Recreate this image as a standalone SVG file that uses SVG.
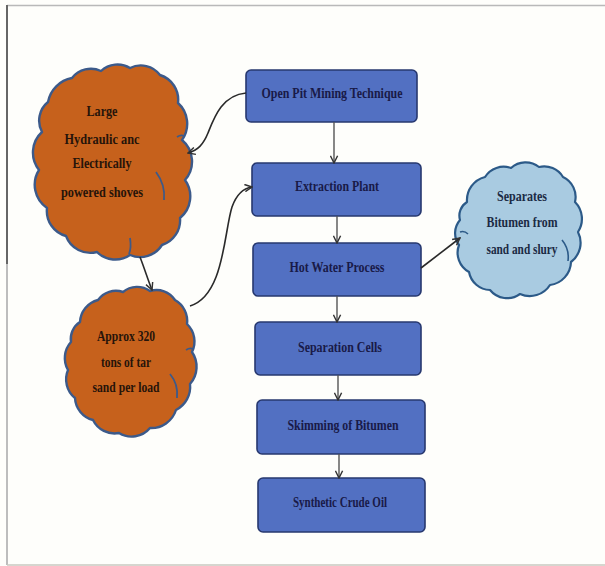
<svg xmlns="http://www.w3.org/2000/svg" width="605" height="566" viewBox="0 0 605 566">
<defs>
<style>
.bg{fill:#fefefb}
.box{fill:#5270c2;stroke:#27386f;stroke-width:1.6}
.bt{font-family:"Liberation Serif","Times New Roman",serif;font-weight:bold;font-size:14px;fill:#191a48;text-anchor:middle}
.ct{font-family:"Liberation Serif","Times New Roman",serif;font-weight:bold;font-size:14px;fill:#26140a;text-anchor:middle}
.bct{font-family:"Liberation Serif","Times New Roman",serif;font-weight:bold;font-size:14px;fill:#1b2a44;text-anchor:middle}
.oc{fill:#c6611c;stroke:#3c5a8a;stroke-width:2.4;stroke-linejoin:round}
.bc{fill:#a9cbe1;stroke:#2c5a88;stroke-width:2.2;stroke-linejoin:round}
.inO{fill:none;stroke:#3c5a8a;stroke-width:1.8}
.inB{fill:none;stroke:#2c5a88;stroke-width:1.6}
.con{fill:none;stroke:#2a2a2a;stroke-width:1.6}
.vcon{fill:none;stroke:#555;stroke-width:1.4}
</style>
<marker id="ah" viewBox="0 0 10 10" refX="9" refY="5" markerWidth="9" markerHeight="9" markerUnits="userSpaceOnUse" orient="auto">
<path d="M1,1 L9,5 L1,9" fill="none" stroke="#333" stroke-width="1.6"/>
</marker>
</defs>
<rect class="bg" x="0" y="0" width="605" height="566"/>
<line x1="7" y1="5.5" x2="605" y2="5.5" stroke="#b9b9b9" stroke-width="1.5"/>
<line x1="7" y1="5" x2="7" y2="264" stroke="#666" stroke-width="2"/>
<line x1="7" y1="264" x2="7" y2="565" stroke="#bdbdbd" stroke-width="2"/>
<line x1="7" y1="565" x2="605" y2="565" stroke="#c8c8c0" stroke-width="1.5"/>

<g id="cloud-shovels">
<path class="oc" d="M48,102 A30,30 0 0 1 72,78 A24,24 0 0 1 101,71 A24,24 0 0 1 130,68 A24,24 0 0 1 160,75 A26,26 0 0 1 178,103 A28,28 0 0 1 182,140 A28,28 0 0 1 185,180 A28,28 0 0 1 180,218 A26,26 0 0 1 162,245 A26,26 0 0 1 130,255 A26,26 0 0 1 97,252 A26,26 0 0 1 66,236 A26,26 0 0 1 47,208 A28,28 0 0 1 39,170 A28,28 0 0 1 42,132 A24,24 0 0 1 48,102 Z"/>
<path class="inO" d="M156,172 C162,180 165,190 164,200"/>
<path class="inO" d="M177,137 C180,135 182,135 184,136"/>
<path class="inO" d="M130,238 C131,244 131,249 129,254"/>
<text class="ct" x="102" y="116" textLength="31" lengthAdjust="spacingAndGlyphs">Large</text>
<text class="ct" x="102" y="144" textLength="75" lengthAdjust="spacingAndGlyphs">Hydraulic anc</text>
<text class="ct" x="102" y="168" textLength="59" lengthAdjust="spacingAndGlyphs">Electrically</text>
<text class="ct" x="102" y="197" textLength="82" lengthAdjust="spacingAndGlyphs">powered shoves</text>
</g>

<g id="cloud-load">
<path class="oc" d="M80,322 A24,24 0 0 1 98,300 A22,22 0 0 1 123,292 A22,22 0 0 1 150,291 A22,22 0 0 1 175,300 A24,24 0 0 1 187,324 A24,24 0 0 1 192,352 A26,26 0 0 1 190,384 A26,26 0 0 1 176,410 A26,26 0 0 1 150,428 A24,24 0 0 1 119,433 A24,24 0 0 1 93,420 A24,24 0 0 1 75,398 A24,24 0 0 1 68,370 A24,24 0 0 1 71,342 A20,20 0 0 1 80,322 Z"/>
<path class="inO" d="M170,374 C175,380 178,389 177,398"/>
<path class="inO" d="M186,350 C189,348 191,348 193,349"/>
<text class="ct" x="126" y="341" textLength="58" lengthAdjust="spacingAndGlyphs">Approx 320</text>
<text class="ct" x="126" y="367" textLength="50" lengthAdjust="spacingAndGlyphs">tons of tar</text>
<text class="ct" x="126" y="392" textLength="67" lengthAdjust="spacingAndGlyphs">sand per load</text>
</g>

<g id="cloud-separates">
<path class="bc" d="M467,202 A24,24 0 0 1 485,177 A22,22 0 0 1 511,168 A22,22 0 0 1 539,167 A22,22 0 0 1 563,177 A22,22 0 0 1 575,202 A24,24 0 0 1 578,232 A24,24 0 0 1 571,262 A24,24 0 0 1 550,285 A24,24 0 0 1 520,294 A22,22 0 0 1 490,290 A22,22 0 0 1 469,272 A22,22 0 0 1 459,245 A20,20 0 0 1 460,220 A16,16 0 0 1 467,202 Z"/>
<path class="inB" d="M562,240 C567,246 569,253 568,261"/>
<path class="inB" d="M460,232 C463,231 466,232 468,234"/>
<text class="bct" x="522" y="201" textLength="50" lengthAdjust="spacingAndGlyphs">Separates</text>
<text class="bct" x="522" y="227" textLength="71" lengthAdjust="spacingAndGlyphs">Bitumen from</text>
<text class="bct" x="522" y="254" textLength="71" lengthAdjust="spacingAndGlyphs">sand and slury</text>
</g>

<g id="box-openpit">
<rect class="box" x="246" y="70" width="171" height="52" rx="5"/>
<text class="bt" x="332" y="98" textLength="141" lengthAdjust="spacingAndGlyphs">Open Pit Mining Technique</text>
</g>
<g id="box-extraction">
<rect class="box" x="252" y="163" width="169" height="53" rx="5"/>
<text class="bt" x="337" y="191" textLength="84" lengthAdjust="spacingAndGlyphs">Extraction Plant</text>
</g>
<g id="box-hotwater">
<rect class="box" x="253" y="243" width="168" height="53" rx="5"/>
<text class="bt" x="337" y="272" textLength="95" lengthAdjust="spacingAndGlyphs">Hot Water Process</text>
</g>
<g id="box-separation">
<rect class="box" x="255" y="322" width="166" height="53" rx="5"/>
<text class="bt" x="340" y="352" textLength="84" lengthAdjust="spacingAndGlyphs">Separation Cells</text>
</g>
<g id="box-skimming">
<rect class="box" x="257" y="400" width="168" height="54" rx="5"/>
<text class="bt" x="343" y="430" textLength="111" lengthAdjust="spacingAndGlyphs">Skimming of Bitumen</text>
</g>
<g id="box-synthetic">
<rect class="box" x="258" y="478" width="167" height="54" rx="5"/>
<text class="bt" x="340" y="507" textLength="94" lengthAdjust="spacingAndGlyphs">Synthetic Crude Oil</text>
</g>

<g id="connectors">
<path class="con" d="M246,93 C222,95 214,118 208,133 C203,145 198,150 188,153" marker-end="url(#ah)"/>
<path class="con" d="M140,257 C145,270 148,280 152,290" marker-end="url(#ah)"/>
<path class="con" d="M190,306 C224,296 224,232 232,207 C237,193 245,188 252,187" marker-end="url(#ah)"/>
<path class="con" d="M421,268 L460,238" marker-end="url(#ah)"/>
<path class="vcon" d="M334,122 L334,163" marker-end="url(#ah)"/>
<path class="vcon" d="M337,216 L337,243" marker-end="url(#ah)"/>
<path class="vcon" d="M337,296 L337,322" marker-end="url(#ah)"/>
<path class="vcon" d="M338,375 L338,400" marker-end="url(#ah)"/>
<path class="vcon" d="M339,454 L339,478" marker-end="url(#ah)"/>
</g>
</svg>
